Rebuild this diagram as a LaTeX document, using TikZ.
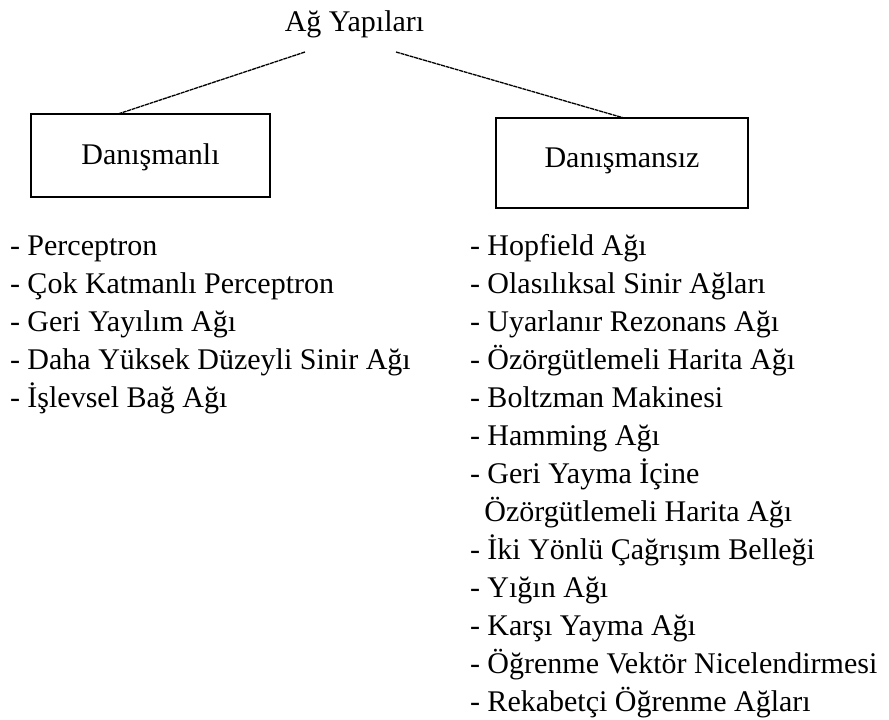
\documentclass[tikz,border=0pt]{standalone}
\usepackage{fontspec}
\setmainfont{Liberation Serif}
\begin{document}
\begin{tikzpicture}[x=1pt,y=-1pt,
  every node/.style={inner sep=0pt, outer sep=0pt, font=\fontsize{30}{38}\selectfont},
  catbox/.style={draw, line width=1.3pt, anchor=north west},
  link/.style={line width=1.3pt, dash pattern=on 4pt off 0.7pt},
  itemline/.style={anchor=base west}]
\useasboundingbox (0,0) rectangle (889,720);

% root label
\node[anchor=base] (root) at (354.5,31) {Ağ Yapıları};
\coordinate (rl) at (305,52);
\coordinate (rr) at (396,52);

% two category boxes with their captions
\node[catbox, minimum width=239pt, minimum height=83pt] (sup) at (31,114) {};
\node[anchor=base] (suptxt) at (sup.center |- 0,164) {Danışmanlı};
\node[catbox, minimum width=252pt, minimum height=90pt] (unsup) at (496,118) {};
\node[anchor=base] (unsuptxt) at (unsup.center |- 0,167) {Danışmansız};

\draw[link] (rl) -- ([xshift=87pt]sup.north west);
\draw[link] (rr) -- ([xshift=128pt]unsup.north west);

% supervised members
\foreach \t [count=\i] in {
  - Perceptron,
  - Çok Katmanlı Perceptron,
  - Geri Yayılım Ağı,
  - Daha Yüksek Düzeyli Sinir Ağı,
  - İşlevsel Bağ Ağı}
  \node[itemline] (s\i) at (10,{255+38*(\i-1)}) {\t};

% unsupervised members
\foreach \t [count=\i] in {
  - Hopfield Ağı,
  - Olasılıksal Sinir Ağları,
  - Uyarlanır Rezonans Ağı,
  - Özörgütlemeli Harita Ağı,
  - Boltzman Makinesi,
  - Hamming Ağı,
  - Geri Yayma İçine,
  \hphantom{- }\kern-3pt Özörgütlemeli Harita Ağı,
  - İki Yönlü Çağrışım Belleği,
  - Yığın Ağı,
  - Karşı Yayma Ağı,
  - Öğrenme Vektör Nicelendirmesi,
  - Rekabetçi Öğrenme Ağları}
  \node[itemline] (u\i) at (470,{255+38*(\i-1)}) {\t};
\end{tikzpicture}
\end{document}
